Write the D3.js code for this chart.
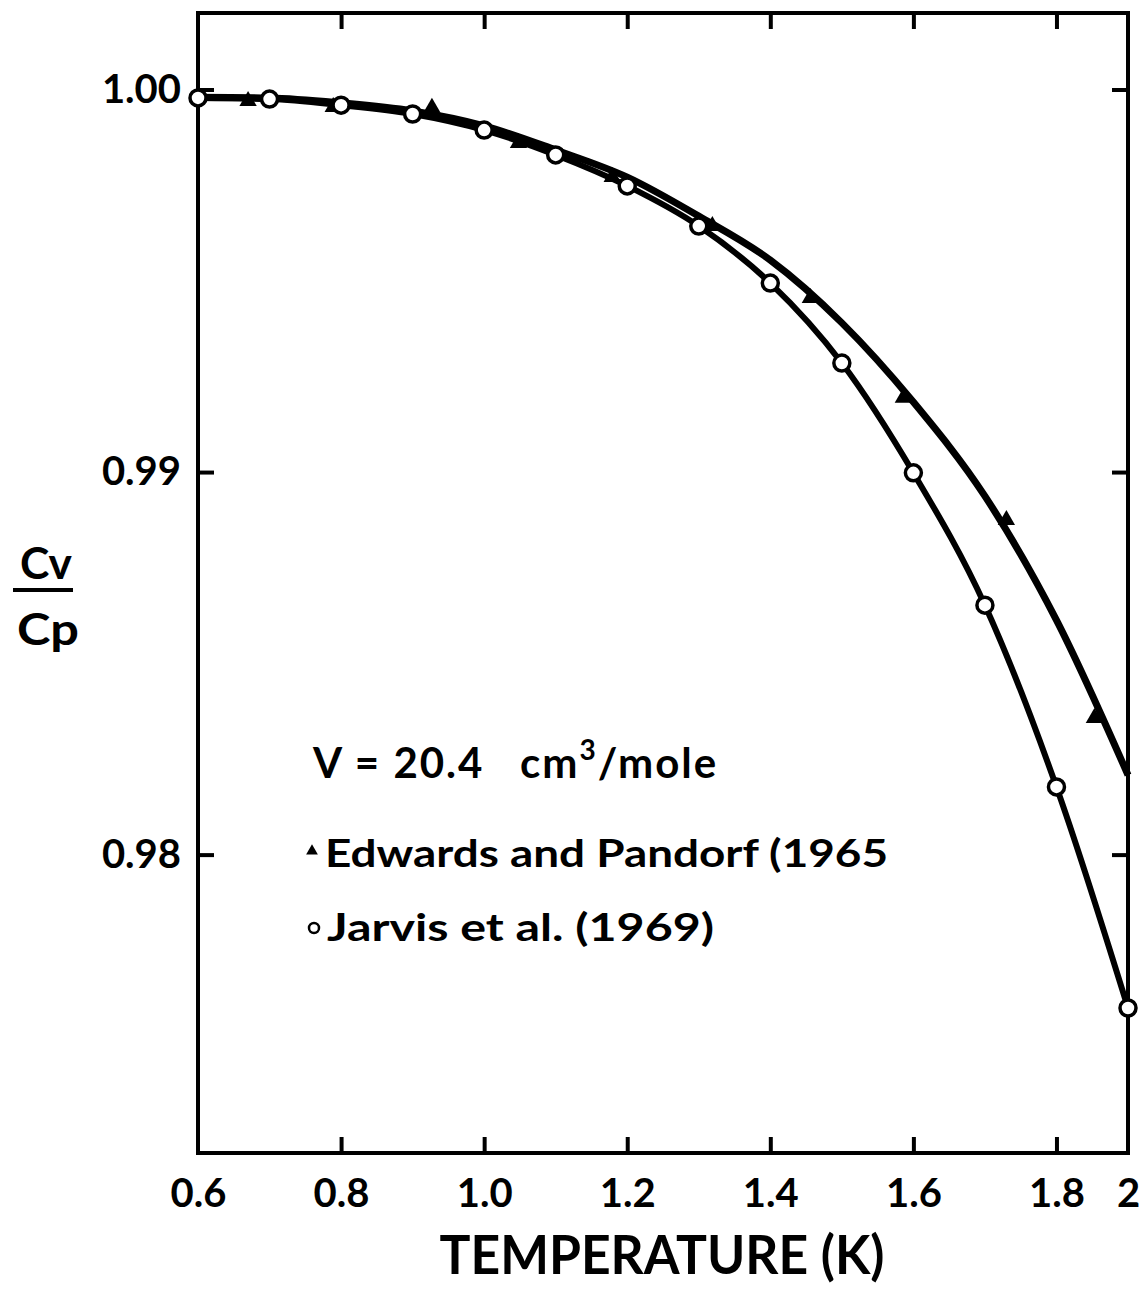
<!DOCTYPE html>
<html>
<head>
<meta charset="utf-8">
<script src="https://cdn.jsdelivr.net/npm/d3@7"></script>
<style>
  html, body { margin: 0; padding: 0; background: #fff; }
  svg { display: block; }
  text { font-family: Lato, "Open Sans", sans-serif; font-weight: 700; fill: #000; }
</style>
</head>
<body>
<svg id="chart" width="1144" height="1289"></svg>
<script>
// Temperature grid (K) for the smoothed curves
const curveT = [0.6, 0.7, 0.8, 0.9, 1.0, 1.1, 1.2, 1.3, 1.4, 1.5, 1.6, 1.7, 1.8, 1.9];
// Smoothed Cv/Cp curve through the Edwards & Pandorf data
const edwardsCurve = [0.99980, 0.99978, 0.99965, 0.99944, 0.99905, 0.99842, 0.99771,
                      0.99669, 0.99554, 0.99390, 0.99183, 0.98937, 0.98613, 0.98208];

// Edwards and Pandorf (1965) — measured points
const edwardsT = [0.670, 0.789, 0.927, 1.048, 1.179, 1.319, 1.456, 1.586, 1.730, 1.853];
const edwardsV = [0.99970, 0.99954, 0.99952, 0.99860, 0.99771, 0.99643, 0.99455,
                  0.99194, 0.98875, 0.98357];

// Jarvis et al. (1969) — measured points
const jarvisT = [0.6, 0.7, 0.8, 0.9, 1.0, 1.1, 1.2, 1.3, 1.4, 1.5, 1.6, 1.7, 1.8, 1.9];
const jarvisV = [0.99978, 0.99975, 0.99959, 0.99936, 0.99894, 0.99829, 0.99748,
                 0.99643, 0.99494, 0.99285, 0.98998, 0.98652, 0.98177, 0.97599];

// Axis ticks
const xTickValues = [0.6, 0.8, 1.0, 1.2, 1.4, 1.6, 1.8, 1.9];
const xTickLabels = ["0.6", "0.8", "1.0", "1.2", "1.4", "1.6", "1.8", "2"];
const xTickMarks = [0.8, 1.0, 1.2, 1.4, 1.6, 1.8];
const yTickValues = [1.00, 0.99, 0.98];
const yTickLabels = ["1.00", "0.99", "0.98"];

const svg = d3.select("#chart");
const plotL = 198, plotR = 1128, plotT = 13, plotB = 1153;

const x = d3.scaleLinear().domain([0.6, 1.9]).range([plotL, plotR]);
const y = d3.scaleLinear().domain([0.9722, 1.002]).range([plotB, plotT]);

// Frame
svg.append("rect")
  .attr("x", plotL).attr("y", plotT)
  .attr("width", plotR - plotL).attr("height", plotB - plotT)
  .attr("fill", "none").attr("stroke", "#000").attr("stroke-width", 4);

// Axes (ticks point inward)
const tickLen = 16;
const axB = svg.append("g").attr("transform", `translate(0,${plotB})`)
  .call(d3.axisBottom(x).tickValues(xTickValues)
    .tickFormat((d, i) => xTickLabels[i]).tickSize(-tickLen).tickPadding(26));
const axT = svg.append("g").attr("transform", `translate(0,${plotT})`)
  .call(d3.axisTop(x).tickValues(xTickMarks).tickFormat("").tickSize(-tickLen));
const axL = svg.append("g").attr("transform", `translate(${plotL},0)`)
  .call(d3.axisLeft(y).tickValues(yTickValues)
    .tickFormat((d, i) => yTickLabels[i]).tickSize(-tickLen).tickPadding(17));
const axR = svg.append("g").attr("transform", `translate(${plotR},0)`)
  .call(d3.axisRight(y).tickValues(yTickValues).tickFormat("").tickSize(-tickLen));

[axB, axT, axL, axR].forEach(g => {
  g.select(".domain").remove();
  g.selectAll(".tick line").attr("stroke", "#000").attr("stroke-width", 4);
  g.selectAll(".tick text").style("font-size", "40px").style("font-weight", 700)
    .attr("fill", "#000");
});
// no tick marks at the frame corners
axB.selectAll(".tick").filter(d => d === 0.6 || d === 1.9).select("line").remove();

// Smoothed curves
const line = d3.line().x(d => x(d[0])).y(d => y(d[1])).curve(d3.curveMonotoneX);
svg.append("path")
  .datum(curveT.map((t, i) => [t, edwardsCurve[i]]))
  .attr("d", line).attr("fill", "none").attr("stroke", "#000")
  .attr("stroke-width", 7).attr("stroke-linejoin", "round");
svg.append("path")
  .datum(jarvisT.map((t, i) => [t, jarvisV[i]]))
  .attr("d", line).attr("fill", "none").attr("stroke", "#000")
  .attr("stroke-width", 6).attr("stroke-linejoin", "round");

// Edwards points: filled triangles
const tri = d3.symbol().type(d3.symbolTriangle).size(130);
svg.append("g").selectAll("path")
  .data(edwardsT.map((t, i) => [t, edwardsV[i]]))
  .join("path")
  .attr("d", tri)
  .attr("transform", d => `translate(${x(d[0])},${y(d[1])})`)
  .attr("fill", "#000");

// Jarvis points: open circles
svg.append("g").selectAll("circle")
  .data(jarvisT.map((t, i) => [t, jarvisV[i]]))
  .join("circle")
  .attr("cx", d => x(d[0])).attr("cy", d => y(d[1]))
  .attr("r", 8).attr("fill", "#fff").attr("stroke", "#000").attr("stroke-width", 3.5);

// Axis title
svg.append("text")
  .attr("x", 662).attr("y", 1274)
  .attr("text-anchor", "middle")
  .attr("textLength", 445).attr("lengthAdjust", "spacingAndGlyphs")
  .style("font-size", "54px")
  .text("TEMPERATURE (K)");

// Y label: Cv over Cp
const yl = svg.append("g");
yl.append("text").attr("x", 20).attr("y", 579)
  .attr("textLength", 52).attr("lengthAdjust", "spacingAndGlyphs")
  .style("font-size", "44px").text("Cv");
yl.append("line").attr("x1", 13).attr("x2", 73).attr("y1", 590).attr("y2", 590)
  .attr("stroke", "#000").attr("stroke-width", 4);
yl.append("text").attr("x", 17).attr("y", 645)
  .attr("textLength", 62).attr("lengthAdjust", "spacingAndGlyphs")
  .style("font-size", "44px").text("Cp");

// Annotation: molar volume
const ann = svg.append("text").attr("x", 313).attr("y", 778)
  .style("font-size", "42px").style("letter-spacing", "2px");
ann.append("tspan").text("V = 20.4");
ann.append("tspan").attr("x", 520).text("cm");
ann.append("tspan").attr("dy", -18).style("font-size", "28px").text("3");
ann.append("tspan").attr("dy", 18).text("/mole");

// Legend
svg.append("path")
  .attr("d", d3.symbol().type(d3.symbolTriangle).size(60))
  .attr("transform", "translate(312,851)").attr("fill", "#000");
svg.append("text").attr("x", 325).attr("y", 867)
  .attr("textLength", 563).attr("lengthAdjust", "spacingAndGlyphs")
  .style("font-size", "38px")
  .text("Edwards and Pandorf (1965");

svg.append("circle").attr("cx", 314).attr("cy", 928).attr("r", 5)
  .attr("fill", "#fff").attr("stroke", "#000").attr("stroke-width", 2.5);
svg.append("text").attr("x", 327).attr("y", 941)
  .attr("textLength", 387).attr("lengthAdjust", "spacingAndGlyphs")
  .style("font-size", "38px")
  .text("Jarvis et al. (1969)");
</script>
</body>
</html>
